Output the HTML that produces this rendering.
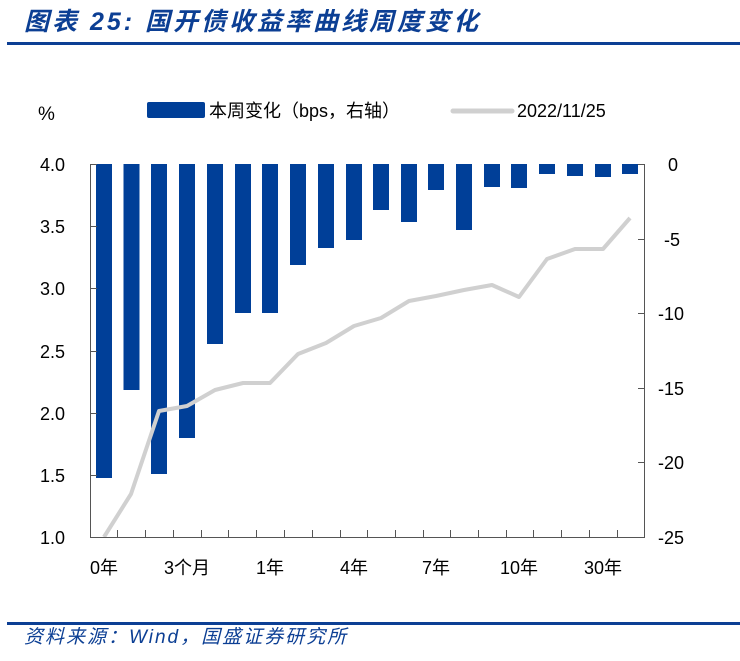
<!DOCTYPE html>
<html><head><meta charset="utf-8"><style>
body{margin:0;background:#fff;width:740px;height:656px;overflow:hidden;font-family:"Liberation Sans","Noto Sans CJK SC",sans-serif;}
</style></head><body>
<svg width="740" height="656" viewBox="0 0 740 656" xmlns="http://www.w3.org/2000/svg" font-family="Liberation Sans, Noto Sans CJK SC, sans-serif">
<text x="24" y="30" font-size="25" font-style="italic" font-weight="bold" fill="#0c3f94" letter-spacing="3">图表 25:  国开债收益率曲线周度变化</text>
<rect x="7" y="42" width="733" height="3" fill="#0c3f94"/>
<text x="38" y="120" font-size="19" fill="#000">%</text>
<rect x="147" y="102" width="58" height="16" rx="2" fill="#003f98"/>
<text x="209" y="117" font-size="18" fill="#000">本周变化（bps，右轴）</text>
<line x1="453" y1="111" x2="512" y2="111" stroke="#d0d0d0" stroke-width="5" stroke-linecap="round"/>
<text x="517" y="117" font-size="18" fill="#000">2022/11/25</text>
<g fill="#003f98">
<rect x="96" y="164" width="16" height="314"/>
<rect x="123.5" y="164" width="16" height="226"/>
<rect x="151" y="164" width="16" height="310"/>
<rect x="179" y="164" width="16" height="274"/>
<rect x="207" y="164" width="16" height="180"/>
<rect x="235" y="164" width="16" height="149"/>
<rect x="262" y="164" width="16" height="149"/>
<rect x="290" y="164" width="16" height="101"/>
<rect x="318" y="164" width="16" height="84"/>
<rect x="346" y="164" width="16" height="76"/>
<rect x="373" y="164" width="16" height="46"/>
<rect x="401" y="164" width="16" height="58"/>
<rect x="428" y="164" width="16" height="26"/>
<rect x="456" y="164" width="16" height="66"/>
<rect x="484" y="164" width="16" height="23"/>
<rect x="511" y="164" width="16" height="24"/>
<rect x="539" y="164" width="16" height="10"/>
<rect x="567" y="164" width="16" height="12"/>
<rect x="595" y="164" width="16" height="13"/>
<rect x="622" y="164" width="16" height="10"/>
</g>
<polyline fill="none" stroke="#d0d0d0" stroke-width="4" stroke-linejoin="round" points="104,537 131,494 159,411 187,406 215,390 243,383 270,383 298,354 326,343 354,326 381,318 409,301 436,296 464,290 492,285 519,297 547,259 575,249 603,249 630,218"/>
<g stroke="#555" stroke-width="1" fill="none">
<line x1="90.5" y1="164" x2="90.5" y2="537"/>
<line x1="644.5" y1="164" x2="644.5" y2="537"/>
<line x1="90" y1="537.5" x2="645" y2="537.5"/>
<line x1="90" y1="164.5" x2="97" y2="164.5"/><line x1="90" y1="226.5" x2="97" y2="226.5"/><line x1="90" y1="288.5" x2="97" y2="288.5"/><line x1="90" y1="351.5" x2="97" y2="351.5"/><line x1="90" y1="413.5" x2="97" y2="413.5"/><line x1="90" y1="475.5" x2="97" y2="475.5"/>
<line x1="638" y1="164.5" x2="645" y2="164.5"/><line x1="638" y1="239.5" x2="645" y2="239.5"/><line x1="638" y1="313.5" x2="645" y2="313.5"/><line x1="638" y1="388.5" x2="645" y2="388.5"/><line x1="638" y1="462.5" x2="645" y2="462.5"/>
<path d="M117.5 537v-7M145.5 537v-7M173.5 537v-7M201.5 537v-7M228.5 537v-7M256.5 537v-7M284.5 537v-7M312.5 537v-7M340.5 537v-7M367.5 537v-7M395.5 537v-7M423.5 537v-7M450.5 537v-7M478.5 537v-7M506.5 537v-7M533.5 537v-7M561.5 537v-7M589.5 537v-7M617.5 537v-7"/>
</g>
<g font-size="18" fill="#000" text-anchor="end">
<text x="65" y="171">4.0</text><text x="65" y="233">3.5</text><text x="65" y="295">3.0</text><text x="65" y="358">2.5</text><text x="65" y="420">2.0</text><text x="65" y="482">1.5</text><text x="65" y="544">1.0</text>
</g>
<g font-size="18" fill="#000" text-anchor="start">
<text x="668" y="171">0</text><text x="664" y="246">-5</text><text x="658" y="320">-10</text><text x="658" y="395">-15</text><text x="658" y="469">-20</text><text x="658" y="544">-25</text>
</g>
<g font-size="18" fill="#000" text-anchor="middle">
<text x="104" y="574">0年</text><text x="187" y="574">3个月</text><text x="270" y="574">1年</text><text x="354" y="574">4年</text><text x="436" y="574">7年</text><text x="519" y="574">10年</text><text x="603" y="574">30年</text>
</g>
<rect x="7" y="622" width="733" height="3" fill="#0c3f94"/>
<text x="24" y="643" font-size="19" font-style="italic" fill="#0c3f94" letter-spacing="2">资料来源：Wind，国盛证券研究所</text>
</svg>
</body></html>
